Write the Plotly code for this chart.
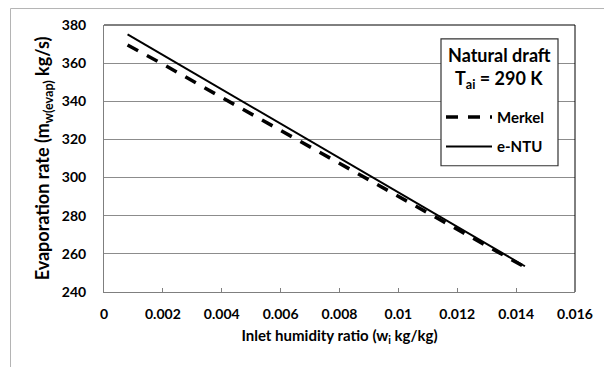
import plotly.graph_objects as go

# Data
humidity = [0.0008, 0.002, 0.004, 0.006, 0.008, 0.010, 0.012, 0.0143]
entu = [375.1, 364.3, 346.3, 328.4, 310.4, 292.4, 274.4, 253.5]
merkel = [369.5, 359.5, 342.0, 324.8, 307.5, 290.0, 272.8, 253.0]

x_ticks = [0, 0.002, 0.004, 0.006, 0.008, 0.01, 0.012, 0.014, 0.016]
x_tick_labels = ["0", "0.002", "0.004", "0.006", "0.008", "0.01", "0.012", "0.014", "0.016"]
y_ticks = [240, 260, 280, 300, 320, 340, 360, 380]

legend_title_1 = "<b>Natural draft</b>"
legend_title_2 = "<b>T<sub>ai</sub> = 290 K</b>"

FONT = "Lato"

fig = go.Figure()
fig.add_trace(go.Scatter(
    x=humidity, y=merkel, mode="lines", name="Merkel", legendgroup="a",
    line=dict(color="black", width=3.5, dash="12px,10px"),
))
fig.add_trace(go.Scatter(
    x=humidity, y=entu, mode="lines", name="e-NTU", legendgroup="b",
    line=dict(color="black", width=2),
))

W, H = 604, 367
L, R, T, B = 104, 29, 25, 74.5
pw, ph = W - L - R, H - T - B

def px2paper(px, py):
    return (px - L) / pw, (H - B - py) / ph

x0, y0 = px2paper(10.5, 8.5)
x1, y1 = px2paper(640, 400)
bx0, by0 = px2paper(441, 39)
bx1, by1 = px2paper(558, 166)
tx, ty1 = px2paper(499, 55)
_, ty2 = px2paper(499, 80)
lx, ly = px2paper(441, 101)

fig.update_layout(
    width=W, height=H,
    margin=dict(l=L, r=R, t=T, b=B),
    paper_bgcolor="white", plot_bgcolor="white",
    font=dict(family=FONT, color="black"),
    showlegend=True,
    legend=dict(
        x=lx, y=ly, xanchor="left", yanchor="top",
        borderwidth=0, bgcolor="rgba(0,0,0,0)",
        font=dict(family=FONT, size=15, color="black", weight="bold"),
        tracegroupgap=7,
        itemwidth=46,
    ),
    xaxis=dict(
        range=[0, 0.016], tickvals=x_ticks, ticktext=x_tick_labels,
        showgrid=False, zeroline=False,
        showline=True, linecolor="#7f7f7f", linewidth=1,
        ticks="inside", ticklen=4, tickcolor="#7f7f7f",
        tickfont=dict(family=FONT, size=14, color="black", weight="bold"),
        ticklabelstandoff=9,
        title=dict(text="<b>Inlet humidity ratio (w<sub>i</sub> kg/kg)</b>",
                   font=dict(family=FONT, size=15, color="black"), standoff=9),
    ),
    yaxis=dict(
        range=[240, 380], tickvals=y_ticks,
        showgrid=True, gridcolor="#8c8c8c", gridwidth=1,
        zeroline=False,
        showline=True, linecolor="#7f7f7f", linewidth=1,
        ticks="",
        tickfont=dict(family=FONT, size=14, color="black", weight="bold"),
        ticklabelstandoff=14,
        title=dict(text="<b>Evaporation rate (m<sub>w(evap)</sub> kg/s)</b>",
                   font=dict(family=FONT, size=18, color="black"), standoff=7),
    ),
    shapes=[
        dict(type="line", xref="paper", yref="paper", x0=0, x1=1, y0=1, y1=1,
             line=dict(color="black", width=1)),
        dict(type="line", xref="paper", yref="paper", x0=1, x1=1, y0=0, y1=1,
             line=dict(color="black", width=1)),
        dict(type="rect", xref="paper", yref="paper", x0=x0, x1=x1, y0=y1, y1=y0,
             line=dict(color="#b4b4b4", width=1), layer="below"),
        dict(type="rect", xref="paper", yref="paper", x0=bx0, x1=bx1, y0=by1, y1=by0,
             line=dict(color="#333333", width=1.2), fillcolor="white", layer="above"),
    ],
    annotations=[
        dict(xref="paper", yref="paper", x=tx, y=ty1, text=legend_title_1,
             showarrow=False, xanchor="center", yanchor="middle",
             font=dict(family=FONT, size=18, color="black")),
        dict(xref="paper", yref="paper", x=tx, y=ty2, text=legend_title_2,
             showarrow=False, xanchor="center", yanchor="middle",
             font=dict(family=FONT, size=18, color="black")),
    ],
)

fig.write_html("out.html")
